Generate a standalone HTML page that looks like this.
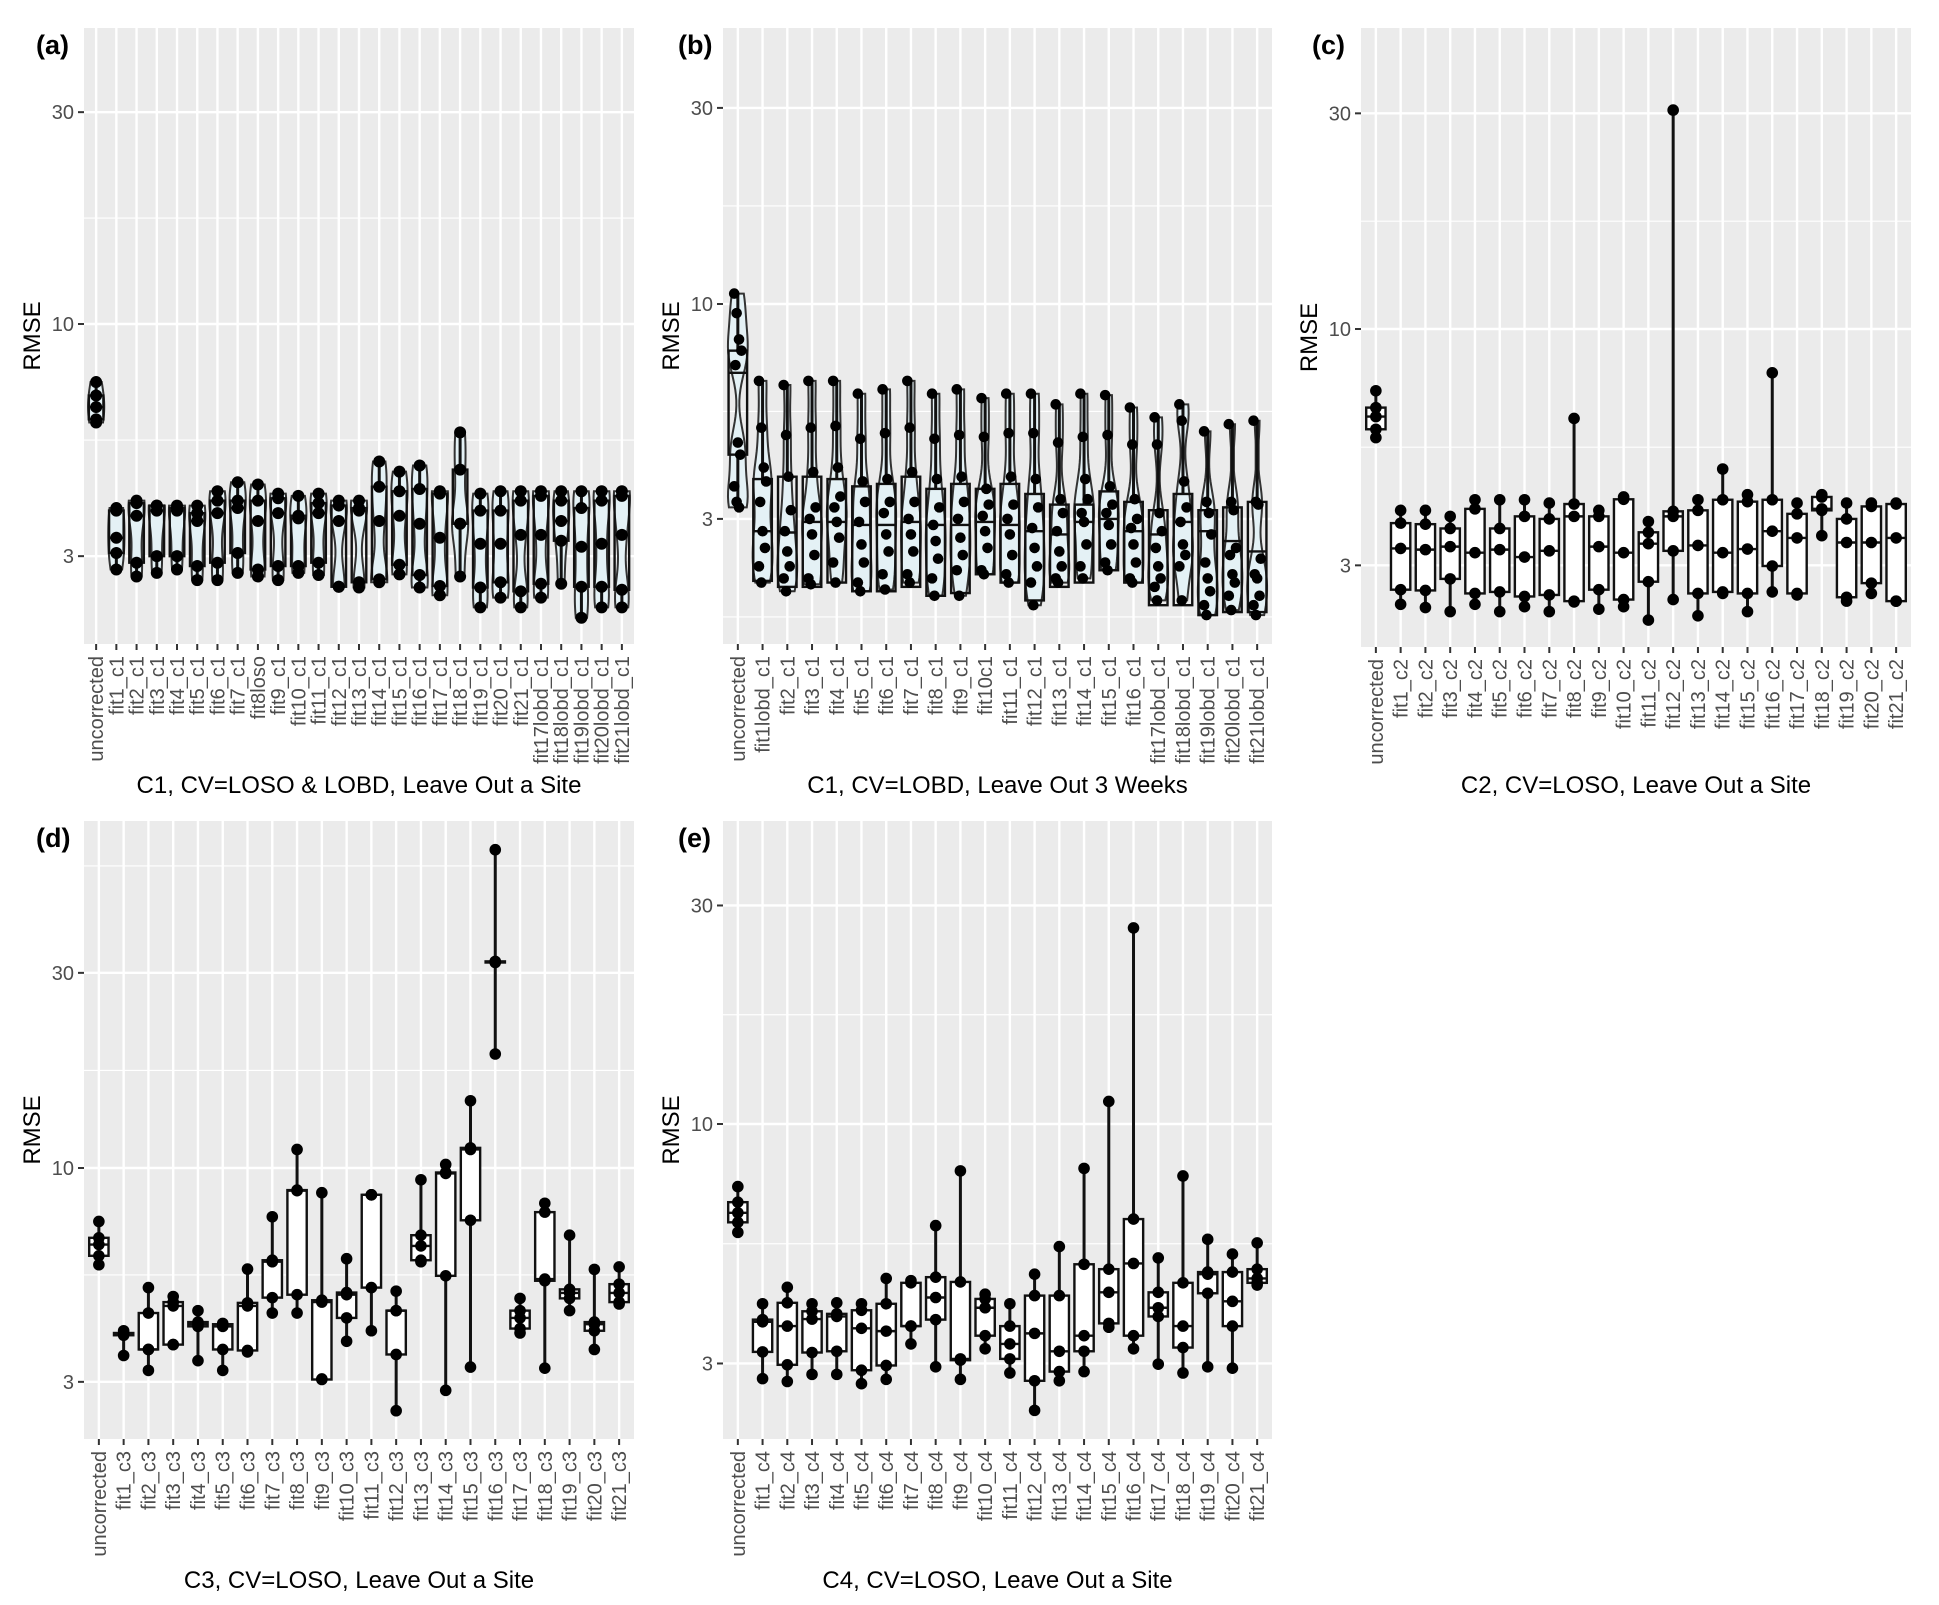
<!DOCTYPE html>
<html><head><meta charset="utf-8"><style>
html,body{margin:0;padding:0;background:#fff;}
svg{display:block;font-family:"Liberation Sans",Arial,sans-serif;}
</style></head><body>
<svg id="fig" width="1939" height="1605" viewBox="0 0 1939 1605" xmlns="http://www.w3.org/2000/svg"></svg>
<script>
// ---------- Panel (a) data ----------
const aCats=["uncorrected","fit1_c1","fit2_c1","fit3_c1","fit4_c1","fit5_c1","fit6_c1","fit7_c1","fit8loso","fit9_c1","fit10_c1","fit11_c1","fit12_c1","fit13_c1","fit14_c1","fit15_c1","fit16_c1","fit17_c1","fit18_c1","fit19_c1","fit20_c1","fit21_c1","fit17lobd_c1","fit18lobd_c1","fit19lobd_c1","fit20lobd_c1","fit21lobd_c1"];
const aLow=[6.0,2.8,2.7,2.75,2.8,2.65,2.65,2.75,2.7,2.65,2.75,2.72,2.56,2.55,2.62,2.73,2.55,2.45,2.7,2.3,2.42,2.3,2.42,2.6,2.18,2.3,2.3];
const aQ1=[6.1,3.05,2.9,3.0,3.0,2.85,2.9,3.05,2.8,2.85,2.85,2.9,2.56,2.62,2.66,2.87,2.72,2.57,3.55,2.55,2.62,2.5,2.6,3.25,2.56,2.56,2.52];
const aMed=[6.5,3.3,3.7,3.8,3.8,3.6,3.75,3.85,3.6,3.75,3.65,3.75,3.6,3.8,3.6,3.7,3.55,3.3,3.55,3.2,3.2,3.35,3.35,3.6,3.15,3.2,3.35];
const aQ3=[6.9,3.8,3.95,3.9,3.85,3.75,4.0,4.0,4.0,4.05,3.7,3.95,3.9,3.85,4.3,4.2,4.25,4.15,4.7,3.8,3.8,4.0,4.1,4.0,3.85,4.0,4.1];
const aHigh=[7.4,3.85,4.0,3.9,3.9,3.9,4.2,4.4,4.35,4.15,4.1,4.15,4.0,4.0,4.9,4.65,4.8,4.2,5.7,4.15,4.2,4.2,4.2,4.2,4.2,4.2,4.2];

// ---------- Panel (b) data ----------
const bCats=["uncorrected","fit1lobd_c1","fit2_c1","fit3_c1","fit4_c1","fit5_c1","fit6_c1","fit7_c1","fit8_c1","fit9_c1","fit10c1","fit11_c1","fit12_c1","fit13_c1","fit14_c1","fit15_c1","fit16_c1","fit17lobd_c1","fit18lobd_c1","fit19lobd_c1","fit20lobd_c1","fit21lobd_c1"];
const bQ1=[4.3,2.12,2.05,2.05,2.1,2.0,2.0,2.05,1.95,1.98,2.2,2.1,1.9,2.05,2.1,2.25,2.1,1.85,1.85,1.75,1.78,1.78];
const bMed=[6.8,2.8,2.78,2.95,2.95,2.9,2.9,2.95,2.9,2.9,2.95,2.9,2.8,2.75,2.95,3.0,2.8,2.75,2.95,2.8,2.65,2.5];
const bQ3=[7.7,3.75,3.8,3.8,3.75,3.6,3.65,3.8,3.55,3.65,3.55,3.65,3.45,3.25,3.25,3.5,3.3,3.15,3.45,3.15,3.2,3.3];
const bPts=[
[10.6,9.5,8.2,7.7,7.1,4.6,4.3,3.6,3.3,3.2],
[6.5,5.0,4.0,3.7,3.3,2.8,2.55,2.3,2.1],
[6.35,4.8,3.8,3.15,2.8,2.5,2.3,2.15,2.0],
[6.5,5.0,3.9,3.2,3.0,2.75,2.45,2.15,2.08],
[6.5,5.05,4.0,3.4,3.2,2.95,2.7,2.35,2.1],
[6.05,4.7,3.7,3.3,2.95,2.6,2.35,2.1,2.0],
[6.2,4.85,3.75,3.3,3.1,2.75,2.5,2.2,2.02],
[6.5,5.0,3.9,3.3,3.0,2.75,2.5,2.2,2.1],
[6.05,4.7,3.75,3.2,2.9,2.65,2.4,2.15,1.95],
[6.2,4.8,3.8,3.3,3.0,2.7,2.45,2.25,1.95],
[5.9,4.75,3.55,3.25,3.05,2.8,2.55,2.25,2.2],
[6.05,4.85,3.8,3.25,3.0,2.75,2.45,2.2,2.1],
[6.05,4.85,3.75,3.2,2.85,2.55,2.3,2.1,1.85],
[5.7,4.6,3.35,3.1,2.8,2.5,2.3,2.15,2.1],
[6.05,4.75,3.75,3.35,3.1,2.95,2.6,2.3,2.15],
[6.0,4.8,3.6,3.25,3.1,2.9,2.6,2.35,2.25],
[5.6,4.55,3.35,3.0,2.85,2.6,2.35,2.15,2.1],
[5.3,4.55,3.1,2.8,2.55,2.3,2.15,2.05,1.9],
[5.7,5.2,3.7,3.2,2.95,2.6,2.45,2.3,1.9],
[4.9,3.3,3.1,2.75,2.35,2.15,2.0,1.85,1.75],
[5.1,3.3,3.15,2.55,2.45,2.2,2.1,1.95,1.8],
[5.2,3.3,3.25,2.4,2.2,2.15,1.95,1.85,1.75]];

// ---------- Panel (c) data ----------
const cCats=["uncorrected","fit1_c2","fit2_c2","fit3_c2","fit4_c2","fit5_c2","fit6_c2","fit7_c2","fit8_c2","fit9_c2","fit10_c2","fit11_c2","fit12_c2","fit13_c2","fit14_c2","fit15_c2","fit16_c2","fit17_c2","fit18_c2","fit19_c2","fit20_c2","fit21_c2"];
const cLow=[5.75,2.46,2.42,2.37,2.46,2.37,2.43,2.37,2.49,2.4,2.43,2.27,2.52,2.32,2.6,2.37,2.62,2.58,3.49,2.5,2.6,2.5];
const cQ1=[6.0,2.65,2.64,2.8,2.6,2.62,2.56,2.58,2.5,2.65,2.52,2.76,3.23,2.6,2.62,2.6,2.99,2.6,3.97,2.55,2.74,2.5];
const cMed=[6.4,3.27,3.25,3.3,3.2,3.25,3.13,3.23,3.85,3.3,3.2,3.35,3.85,3.32,3.2,3.26,3.57,3.45,4.0,3.37,3.37,3.45];
const cQ3=[6.7,3.72,3.7,3.62,4.0,3.62,3.85,3.8,4.1,3.85,4.2,3.55,3.95,3.97,4.19,4.15,4.19,3.9,4.25,3.8,4.05,4.1];
const cHigh=[7.3,3.97,3.97,3.85,4.19,4.19,4.19,4.12,6.34,3.97,4.25,3.75,30.5,4.19,4.9,4.3,8.0,4.12,4.3,4.12,4.12,4.12];

// ---------- Panel (d) data ----------
const dCats=["uncorrected","fit1_c3","fit2_c3","fit3_c3","fit4_c3","fit5_c3","fit6_c3","fit7_c3","fit8_c3","fit9_c3","fit10_c3","fit11_c3","fit12_c3","fit13_c3","fit14_c3","fit15_c3","fit16_c3","fit17_c3","fit18_c3","fit19_c3","fit20_c3","fit21_c3"];
const dLow=[5.8,3.48,3.2,3.7,3.38,3.2,3.55,4.42,4.42,3.05,3.77,4.0,2.55,5.9,2.86,3.26,19,3.95,3.24,4.48,3.6,4.65];
const dQ1=[6.1,3.9,3.6,3.7,4.1,3.6,3.58,4.82,4.9,3.04,4.3,5.1,3.5,5.95,5.45,7.45,31.8,4.05,5.3,4.8,4.0,4.7];
const dMed=[6.5,3.93,3.6,4.6,4.15,4.1,4.6,5.9,8.8,4.7,4.9,8.6,4.48,6.45,9.7,11.1,31.9,4.3,5.35,4.95,4.15,4.95];
const dQ3=[6.75,3.95,4.42,4.7,4.2,4.15,4.68,5.95,8.83,4.75,4.96,8.6,4.48,6.85,9.75,11.2,32.0,4.48,7.8,5.05,4.2,5.2];
const dHigh=[7.4,4.0,5.1,4.85,4.48,4.17,5.66,7.6,11.1,8.7,6.0,8.6,5.0,9.36,10.2,14.6,60,4.8,8.2,6.85,5.65,5.73];

// ---------- Panel (e) data ----------
const eCats=["uncorrected","fit1_c4","fit2_c4","fit3_c4","fit4_c4","fit5_c4","fit6_c4","fit7_c4","fit8_c4","fit9_c4","fit10_c4","fit11_c4","fit12_c4","fit13_c4","fit14_c4","fit15_c4","fit16_c4","fit17_c4","fit18_c4","fit19_c4","fit20_c4","fit21_c4"];
const eLow=[5.8,2.78,2.74,2.84,2.84,2.71,2.77,3.31,2.95,2.77,3.23,2.86,2.37,2.75,2.88,3.6,3.23,2.99,2.86,2.95,2.93,4.45];
const eQ1=[6.1,3.18,2.98,3.17,3.19,2.9,2.97,3.62,3.74,3.05,3.45,3.07,2.75,2.88,3.19,3.67,3.45,3.8,3.25,4.27,3.62,4.5];
const eMed=[6.4,3.7,3.62,3.75,3.8,3.58,3.53,3.62,4.18,3.07,3.97,3.31,3.49,3.19,3.45,4.29,4.96,3.97,3.62,4.7,4.1,4.6];
const eQ3=[6.75,3.74,4.07,3.9,3.85,3.92,4.05,4.5,4.63,4.52,4.15,3.62,4.22,4.22,4.94,4.82,6.2,4.29,4.5,4.75,4.75,4.82];
const eHigh=[7.3,4.05,4.4,4.05,4.07,4.05,4.6,4.55,6.0,7.9,4.25,4.05,4.7,5.4,8.0,11.2,26.8,5.1,7.7,5.6,5.2,5.5];

const yTicks=[3,10,30];
const yMinor=[1.732,5.477,17.32,54.77];

const NS="http://www.w3.org/2000/svg";
const svg=document.getElementById('fig');
function mk(tag,attrs,parent){const e=document.createElementNS(NS,tag);for(const k in attrs)e.setAttribute(k,attrs[k]);(parent||svg).appendChild(e);return e;}

function drawPanel(p){
  const g=mk('g',{});
  
  
  const n=p.cats.length;
  const step=(p.x1-p.x0)/(n-1+1.2);
  const xS=i=>p.x0+step*(0.6+i);
  const yS=v=>p.t10-p.dec*Math.log10(v/10);
  const bg=mk('rect',{x:p.x0,y:p.y0,width:p.x1-p.x0,height:p.y1-p.y0,fill:'#ebebeb'},g);
  
  
  const clipId='clip'+p.id;
  const cp=mk('clipPath',{id:clipId},g);mk('rect',{x:p.x0,y:p.y0,width:p.x1-p.x0,height:p.y1-p.y0},cp);
  const grid=mk('g',{'clip-path':'url(#'+clipId+')'},g);
  
  
  yMinor.forEach(v=>{const y=yS(v);mk('line',{x1:p.x0,x2:p.x1,y1:y,y2:y,stroke:'#fff','stroke-width':1.2},grid);});
  yTicks.forEach(v=>{const y=yS(v);mk('line',{x1:p.x0,x2:p.x1,y1:y,y2:y,stroke:'#fff','stroke-width':2.4},grid);});
  for(let i=0;i<n;i++){const x=xS(i);mk('line',{x1:x,x2:x,y1:p.y0,y2:p.y1,stroke:'#fff','stroke-width':2.4},grid);}
  yTicks.forEach(v=>{const y=yS(v);
    mk('line',{x1:p.x0-6,x2:p.x0,y1:y,y2:y,stroke:'#333','stroke-width':2},g);
    const t=mk('text',{x:p.x0-10,y:y+7,'text-anchor':'end','font-size':20,fill:'#4d4d4d'},g);t.textContent=v;
    
    
  });
  const marks=mk('g',{'clip-path':'url(#'+clipId+')'},g);
  const bw=step*p.bw;
  for(let i=0;i<n;i++){
    const x=xS(i);
    const pts=p.pts(i);
    const lo=Math.min(...pts), hi=Math.max(...pts);
    const cg=mk('g',{},marks);
    
    
    if(p.violin){
      const L=pts.map(v=>Math.log10(v)), bwK=0.05;
      const m=40, dens=[];
      for(let k=0;k<=m;k++){const lv=Math.log10(lo)+(Math.log10(hi)-Math.log10(lo))*k/m;
        let d=0;L.forEach(l=>{d+=Math.exp(-0.5*((lv-l)/bwK)**2);});dens.push([Math.pow(10,lv),d]);}
      const mx=Math.max(...dens.map(d=>d[1]));
      const half=step*0.4;
      let left=[],right=[];
      dens.forEach(([v,d])=>{const w=Math.max(1.5,half*d/mx);left.push((x-w)+','+yS(v));right.unshift((x+w)+','+yS(v));});
      const vp=mk('polygon',{points:left.concat(right).join(' '),fill:'#e4f1f5',stroke:'#333','stroke-width':2},cg);
      
      
    }
    const q1=p.q1[i],q3=p.q3[i],md=p.med[i];
    mk('line',{x1:x,x2:x,y1:yS(hi),y2:yS(q3),stroke:'#111','stroke-width':3},cg);
    mk('line',{x1:x,x2:x,y1:yS(q1),y2:yS(lo),stroke:'#111','stroke-width':3},cg);
    mk('rect',{x:x-bw/2,y:yS(q3),width:bw,height:Math.max(1,yS(q1)-yS(q3)),fill:p.violin?'none':'#fff',stroke:'#111','stroke-width':2.4},cg);
    mk('line',{x1:x-bw/2,x2:x+bw/2,y1:yS(md),y2:yS(md),stroke:'#111','stroke-width':2.4},cg);
    pts.forEach((v,k)=>{const jx=p.jit?((k*37)%7-3)*1.2:0;
      const c=mk('circle',{cx:x+jx,cy:yS(v),r:p.r,fill:'#000'},cg);
      
      
    });
  }
  for(let i=0;i<n;i++){const x=xS(i);
    mk('line',{x1:x,x2:x,y1:p.y1,y2:p.y1+6,stroke:'#333','stroke-width':2},g);
    const t=mk('text',{x:0,y:0,'text-anchor':'end','font-size':20,fill:'#4d4d4d',transform:'translate('+(x+7)+','+(p.y1+12)+') rotate(-90)'},g);
    t.textContent=p.cats[i];
    
    
  }
  const yt=mk('text',{x:0,y:0,'text-anchor':'middle','font-size':24,fill:'#000',transform:'translate('+(p.x0-44)+','+((p.y0+p.y1)/2)+') rotate(-90)'},g);
  yt.textContent='RMSE';
  
  
  const xt=mk('text',{x:(p.x0+p.x1)/2,y:p.titleY,'text-anchor':'middle','font-size':24,fill:'#000'},g);
  xt.textContent=p.title;
  
  
  const pl=mk('text',{x:p.lx,y:p.ly,'font-size':27,'font-weight':'bold',fill:'#000'},g);
  pl.textContent='('+p.id+')';
  
  
}
function five(lo,q1,md,q3,hi){return i=>[lo[i],q1[i],md[i],q3[i],hi[i]];}
drawPanel({id:'a',cats:aCats,q1:aQ1,med:aMed,q3:aQ3,pts:five(aLow,aQ1,aMed,aQ3,aHigh),x0:84,x1:634,y0:28,y1:644,t10:324,dec:444,bw:0.72,r:6,violin:true,jit:false,title:'C1, CV=LOSO & LOBD, Leave Out a Site',titleY:793,lx:36,ly:54});
drawPanel({id:'b',cats:bCats,q1:bQ1,med:bMed,q3:bQ3,pts:i=>bPts[i],x0:723,x1:1272,y0:28,y1:644,t10:304,dec:411,bw:0.75,r:5.3,violin:true,jit:true,title:'C1, CV=LOBD, Leave Out 3 Weeks',titleY:793,lx:678,ly:54});
drawPanel({id:'c',cats:cCats,q1:cQ1,med:cMed,q3:cQ3,pts:five(cLow,cQ1,cMed,cQ3,cHigh),x0:1361,x1:1911,y0:28,y1:647,t10:329,dec:452,bw:0.78,r:5.8,violin:false,jit:false,title:'C2, CV=LOSO, Leave Out a Site',titleY:793,lx:1312,ly:54});
drawPanel({id:'d',cats:dCats,q1:dQ1,med:dMed,q3:dQ3,pts:five(dLow,dQ1,dMed,dQ3,dHigh),x0:84,x1:634,y0:821,y1:1439,t10:1168,dec:409,bw:0.78,r:5.8,violin:false,jit:false,title:'C3, CV=LOSO, Leave Out a Site',titleY:1588,lx:36,ly:847});
drawPanel({id:'e',cats:eCats,q1:eQ1,med:eMed,q3:eQ3,pts:five(eLow,eQ1,eMed,eQ3,eHigh),x0:723,x1:1272,y0:821,y1:1439,t10:1124,dec:458,bw:0.78,r:5.8,violin:false,jit:false,title:'C4,  CV=LOSO, Leave Out a Site',titleY:1588,lx:678,ly:847});
</script>
</body></html>
